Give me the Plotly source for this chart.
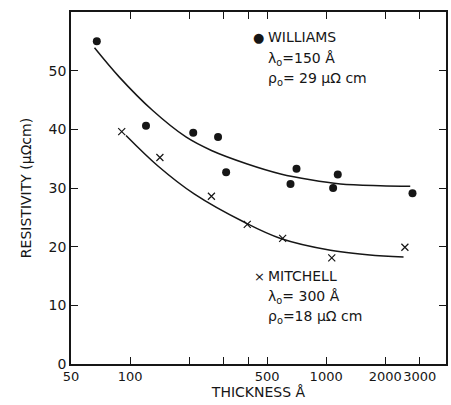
import plotly.graph_objects as go

# Williams data (dots)
williams_t = [67.7, 120.6, 210, 281, 309, 658, 706, 1085, 1146, 2755]
williams_rho = [55.0, 40.6, 39.4, 38.7, 32.7, 30.7, 33.3, 30.0, 32.3, 29.1]

# Mitchell data (crosses)
mitchell_t = [90.7, 142, 260, 396, 600, 1068, 2520]
mitchell_rho = [39.6, 35.2, 28.6, 23.8, 21.4, 18.1, 19.9]

# Fitted curves
w_curve_t = [65.9, 88.2, 130.5, 192.7, 260, 396, 586, 832, 1182, 1888, 2683]
w_curve_rho = [53.9, 48.9, 43.2, 38.7, 36.4, 34.1, 32.4, 31.4, 30.7, 30.4, 30.3]

m_curve_t = [95.4, 138.3, 212.3, 381, 586, 1052, 1963, 2480]
m_curve_rho = [38.95, 33.8, 29.0, 24.2, 21.4, 19.4, 18.4, 18.25]

x_tickvals = [50, 100, 200, 300, 400, 500, 1000, 2000, 3000]
x_ticktext = ["50", "100", "", "", "", "500", "1000", "2000", "3000"]
y_tickvals = [0, 10, 20, 30, 40, 50]
y_ticktext = ["0", "10", "20", "30", "40", "50"]

FONT = "DejaVu Sans"
INK = "#161616"

fig = go.Figure()
fig.add_trace(go.Scatter(x=w_curve_t, y=w_curve_rho, mode="lines",
                         line=dict(color=INK, width=1.5, shape="spline", smoothing=1.0),
                         showlegend=False))
fig.add_trace(go.Scatter(x=m_curve_t, y=m_curve_rho, mode="lines",
                         line=dict(color=INK, width=1.5, shape="spline", smoothing=1.0),
                         showlegend=False))
fig.add_trace(go.Scatter(x=williams_t, y=williams_rho, mode="markers",
                         marker=dict(symbol="circle", size=8, color=INK), showlegend=False))
fig.add_trace(go.Scatter(x=mitchell_t, y=mitchell_rho, mode="markers",
                         marker=dict(symbol="x-thin", size=7, line=dict(color=INK, width=1.2)),
                         showlegend=False))

annos = []
def txt(x, y, s, size=14):
    annos.append(dict(x=x, y=y, xref="paper", yref="paper", text=s, showarrow=False,
                      xanchor="left", yanchor="middle",
                      font=dict(family=FONT, size=size, color=INK)))

# paper coords: plot area x 71..446, y 12..364
def px(xp):
    return (xp - 71) / (446 - 71)
def py(yp):
    return (364 - yp) / (364 - 12)

txt(px(251), py(37), "●", 13)
txt(px(266), py(37), "WILLIAMS")
txt(px(266), py(59), "λ<sub>o</sub>=150 Å")
txt(px(266), py(79), "ρ<sub>o</sub>= 29 μΩ cm")
txt(px(252), py(276), "×", 13)
txt(px(266), py(276), "MITCHELL")
txt(px(266), py(297), "λ<sub>o</sub>= 300 Å")
txt(px(266), py(317), "ρ<sub>o</sub>=18 μΩ cm")

fig.update_layout(
    width=451, height=405,
    margin=dict(l=71, r=5, t=12, b=41),
    paper_bgcolor="white", plot_bgcolor="white",
    font=dict(family=FONT, color=INK, size=14),
    annotations=annos,
    xaxis=dict(type="log", range=[1.699, 3.611], tickvals=x_tickvals, ticktext=x_ticktext,
               ticks="inside", ticklen=7, tickwidth=1, tickcolor=INK, tickangle=0,
               showline=True, linecolor=INK, linewidth=1.5, mirror="ticks",
               showgrid=False, zeroline=False, automargin=False,
               title=dict(text="THICKNESS Å", font=dict(size=14), standoff=0),
               tickfont=dict(size=13)),
    yaxis=dict(range=[0, 60], tickvals=y_tickvals, ticktext=y_ticktext,
               ticks="inside", ticklen=7, tickwidth=1, tickcolor=INK,
               showline=True, linecolor=INK, linewidth=1.5, mirror="ticks",
               showgrid=False, zeroline=False, automargin=False,
               title=dict(text="RESISTIVITY (μΩcm)", font=dict(size=14), standoff=14),
               tickfont=dict(size=14)),
)

fig.write_html("out.html")
